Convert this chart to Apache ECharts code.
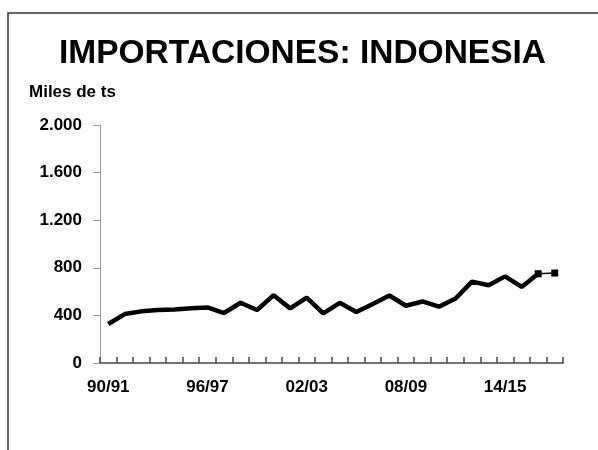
<!DOCTYPE html>
<html><head><meta charset="utf-8">
<script src="https://cdn.jsdelivr.net/npm/echarts@6/dist/echarts.min.js"></script>
<style>html,body{margin:0;padding:0;background:#fff}#c{width:598px;height:450px}</style>
</head><body><div id="c"></div>
<script>
var categories = ['90/91','91/92','92/93','93/94','94/95','95/96','96/97','97/98','98/99','99/00',
  '00/01','01/02','02/03','03/04','04/05','05/06','06/07','07/08','08/09','09/10',
  '10/11','11/12','12/13','13/14','14/15','15/16','16/17','17/18'];
var imports = [328,411,434,445,450,461,467,420,506,445,570,459,550,417,506,428,495,567,481,517,473,542,684,653,728,639,750,null];
var forecast = [null,null,null,null,null,null,null,null,null,null,null,null,null,null,null,null,null,null,null,null,null,null,null,null,null,null,750,756];
var yTicks = [0,400,800,1200,1600,2000];
var FONT = 'Liberation Sans, Arial, sans-serif';
var chart = echarts.init(document.getElementById('c'), null, {renderer:'canvas'});
chart.setOption({
  animation:false,
  backgroundColor:'#fff',
  graphic:[{type:'rect', shape:{x:8,y:13,width:640,height:480}, style:{fill:'none', stroke:'#333', lineWidth:1.5}, z:-1}],
  title:[
    {text:'IMPORTACIONES: INDONESIA', left:54, top:32,
     textStyle:{fontFamily:FONT, fontWeight:'bold', fontSize:33.5, color:'#000'}},
    {text:'Miles de ts', left:24, top:79,
     textStyle:{fontFamily:FONT, fontWeight:'bold', fontSize:17, color:'#000'}}
  ],
  grid:{left:100, right:35, top:125, bottom:87, containLabel:false},
  xAxis:{type:'category', data:categories, boundaryGap:true,
    axisLine:{lineStyle:{color:'#444', width:1.5}},
    axisTick:{show:true, inside:true, length:6, interval:0, lineStyle:{color:'#444', width:1.5}},
    axisLabel:{interval:5, margin:16, fontFamily:FONT, fontWeight:'bold', fontSize:17, color:'#000'},
    splitLine:{show:false}},
  yAxis:{type:'value', min:yTicks[0], max:yTicks[yTicks.length-1], interval:yTicks[1]-yTicks[0],
    axisLine:{show:true, lineStyle:{color:'#999', width:1}},
    axisTick:{show:true, length:7, lineStyle:{color:'#999'}},
    axisLabel:{margin:18, fontFamily:FONT, fontWeight:'bold', fontSize:17, color:'#000',
      formatter:function(v){return String(v).replace(/\B(?=(\d{3})+(?!\d))/g,'.');}},
    splitLine:{show:false}},
  series:[
    {type:'line', data:imports, symbol:'none', lineStyle:{color:'#000', width:4.5}, connectNulls:false},
    {type:'line', data:forecast, symbol:'rect', symbolSize:7, itemStyle:{color:'#000'},
     lineStyle:{color:'#000', width:1.5}}
  ]
});
</script></body></html>
